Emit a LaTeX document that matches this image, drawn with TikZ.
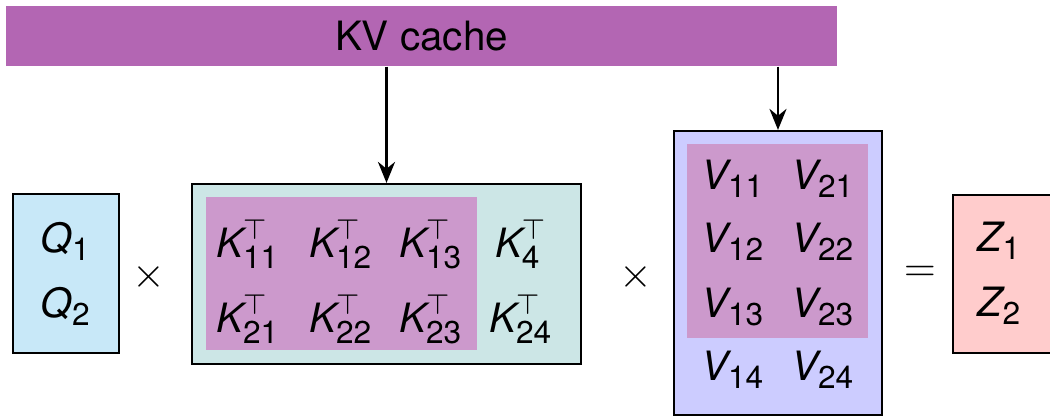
\documentclass[tikz,border=0pt]{standalone}
\usepackage{amsmath}
\usepackage{fontspec}
\setmainfont{TeX Gyre Heros}
\usetikzlibrary{positioning,arrows.meta}
\definecolor{cachebg}{HTML}{B366B3}
\definecolor{hitbg}{HTML}{CC99CC}
\definecolor{qbg}{HTML}{C8E8F8}
\definecolor{kbg}{HTML}{CCE6E6}
\definecolor{vbg}{HTML}{CCCCFF}
\definecolor{zbg}{HTML}{FFCCCC}
\newcommand{\subidx}[1]{\text{\fontsize{9}{10}\selectfont #1}}
\newcommand{\kent}[1]{$\textit{K}^{\top}_{\subidx{#1}}$}
\newcommand{\vent}[1]{$\textit{V}_{\subidx{#1}}$}
\newcommand{\sent}[2]{$\textit{#1}_{\subidx{#2}}$}

\begin{document}
\begin{tikzpicture}[
  font=\fontsize{11.5}{14}\selectfont,
  mat/.style={draw, line width=0.6pt, inner sep=0pt},
  hit/.style={fill=hitbg, inner sep=0pt},
  ent/.style={anchor=base, inner sep=0pt},
  arr/.style={line width=0.85pt, -{Stealth[length=2.1mm,width=1.7mm]}}
]
  \useasboundingbox (0,0) rectangle (10.5,4.16);
  \clip (0,0) rectangle (10.5,4.16);

  % KV cache bar
  \node[fill=cachebg, inner sep=0pt, minimum width=8.31cm, minimum height=0.6cm] (cache) at (4.215,3.80) {KV cache};

  % Q
  \node[mat, fill=qbg, minimum width=1.06cm, minimum height=1.59cm] (qmat) at (0.66,1.425) {};
  \node[ent] (q1) at (0.66,1.63) {\sent{Q}{1}};
  \node[ent] (q2) at (0.66,0.98) {\sent{Q}{2}};
  \node (mul1) at (1.49,1.39) {$\times$};

  % K transposed
  \node[mat, fill=kbg, minimum width=3.89cm, minimum height=1.80cm] (kmat) at (3.865,1.42) {};
  \node[hit, minimum width=2.71cm, minimum height=1.53cm] (khit) at (3.415,1.425) {};
  \foreach \c/\x in {1/2.48,2/3.41,3/4.31}{
    \node[ent] (k1\c) at (\x,1.58) {\kent{1\c}};
    \node[ent] (k2\c) at (\x,0.83) {\kent{2\c}};
  }
  \node[ent] (k14) at (5.21,1.58) {\kent{4}};
  \node[ent] (k24) at (5.21,0.83) {\kent{24}};
  \node (mul2) at (6.36,1.39) {$\times$};

  % V
  \node[mat, fill=vbg, minimum width=2.08cm, minimum height=2.84cm] (vmat) at (7.78,1.43) {};
  \node[hit, minimum width=1.81cm, minimum height=1.94cm] (vhit) at (7.775,1.75) {};
  \foreach \r/\y in {1/2.26,2/1.63,3/0.98,4/0.35}{
    \node[ent] (v1\r) at (7.33,\y) {\vent{1\r}};
    \node[ent] (v2\r) at (8.23,\y) {\vent{2\r}};
  }
  \node (eq) at (9.20,1.42) {$=$};

  % Z
  \node[mat, fill=zbg, minimum width=1.06cm, minimum height=1.58cm] (zmat) at (10.06,1.42) {};
  \node[ent] (z1) at (10.00,1.64) {\sent{Z}{1}};
  \node[ent] (z2) at (10.00,0.99) {\sent{Z}{2}};

  % cache reads
  \draw[arr] (cache.south -| kmat.north) -- (kmat.north);
  \draw[arr] (cache.south -| vmat.north) -- (vmat.north);
\end{tikzpicture}
\end{document}
